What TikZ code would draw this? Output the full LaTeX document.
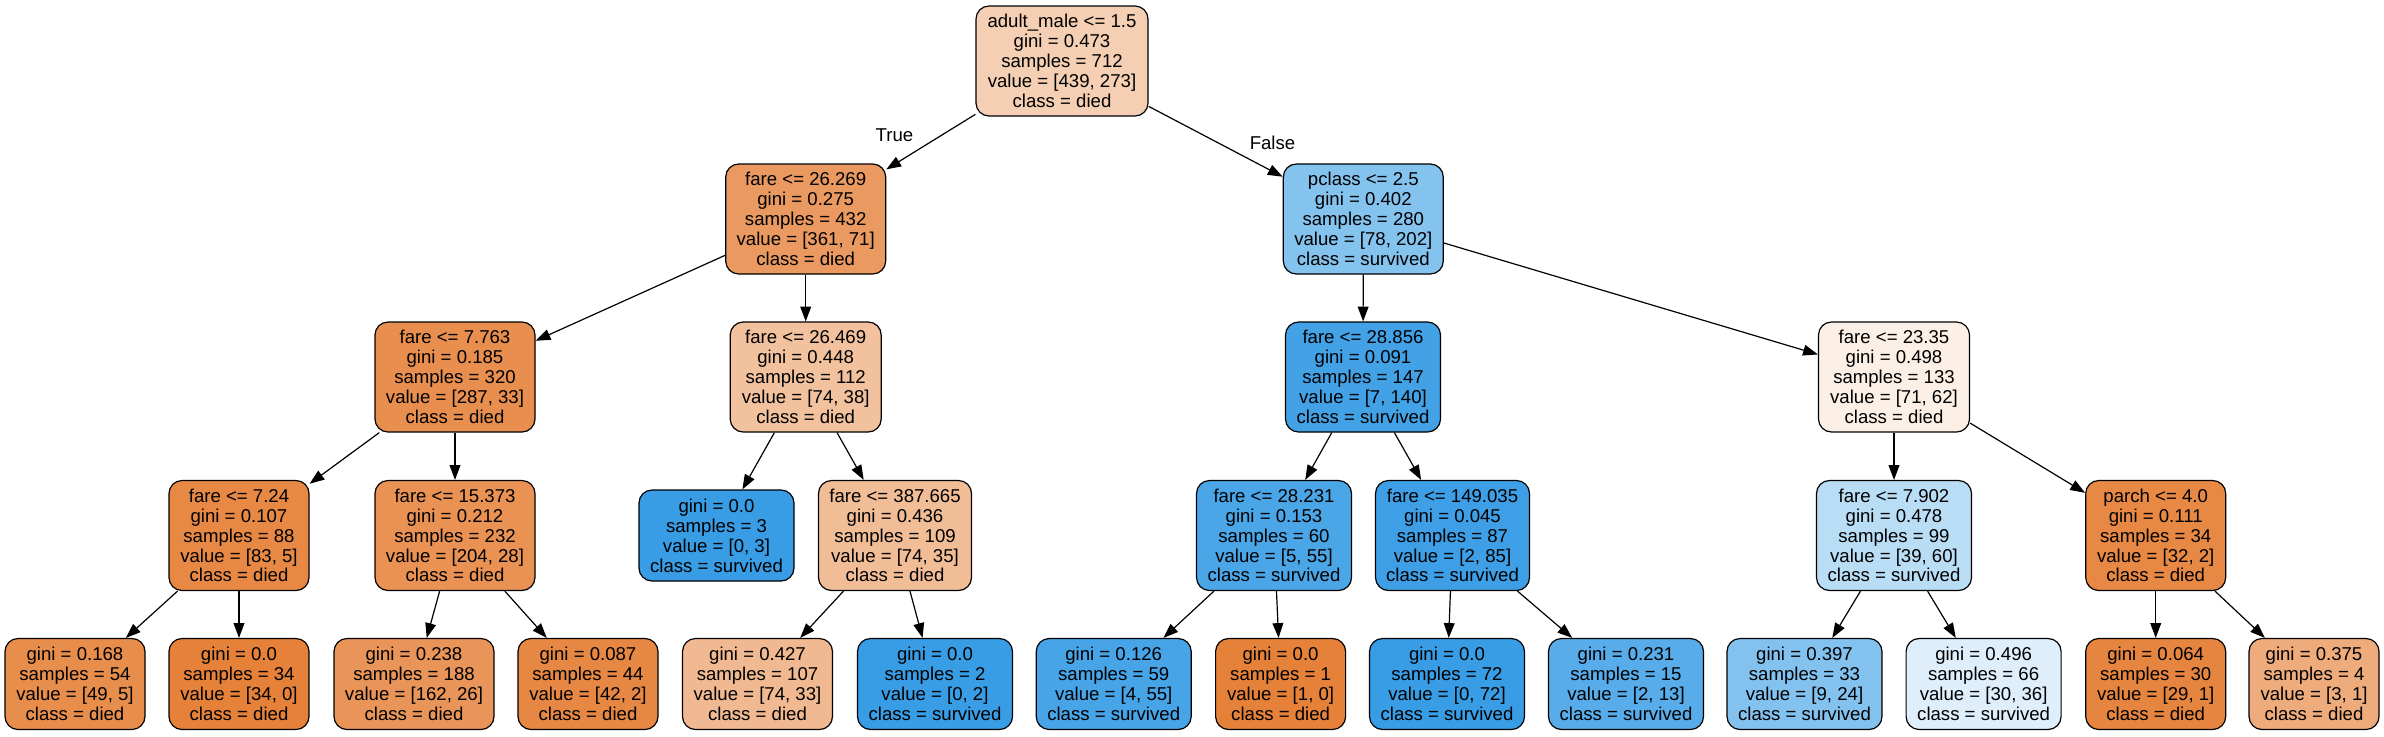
\documentclass[tikz,border=0pt]{standalone}
\usepackage{fontspec}
\setmainfont{Liberation Sans}
\usetikzlibrary{arrows.meta}
\newcommand\treefont{\fontsize{9.3}{9.95}\selectfont}
\definecolor{died}{RGB}{229,129,57}
\definecolor{surv}{RGB}{57,157,229}
\tikzset{
  tn/.style={draw=black, line width=0.6pt, rounded corners=6.5pt, align=center,
    inner sep=0pt, font=\treefont, minimum height=55pt},
  lf/.style={tn, minimum height=45.5pt},
  edge/.style={draw=black, line width=0.6pt, -{Triangle[length=7.4pt,width=5.4pt]}},
  elab/.style={font=\treefont, inner sep=0pt},
}
\begin{document}
\begin{tikzpicture}[x=0.5pt,y=-0.5pt]
\useasboundingbox (0,0) rectangle (2384,736);
% rank 0
\node[tn, minimum width=86pt, fill=died!37.8!white] (root) at (1062,61) {adult\_male <= 1.5\\gini = 0.473\\samples = 712\\value = [439, 273]\\class = died};
% rank 1
\node[tn, minimum width=80pt, fill=died!80.3!white] (n1) at (805.7,219) {fare <= 26.269\\gini = 0.275\\samples = 432\\value = [361, 71]\\class = died};
\node[tn, minimum width=80pt, fill=surv!61.4!white] (n2) at (1363.3,219) {pclass <= 2.5\\gini = 0.402\\samples = 280\\value = [78, 202]\\class = survived};
% rank 2
\node[tn, minimum width=80pt, fill=died!88.5!white] (n3) at (455,377) {fare <= 7.763\\gini = 0.185\\samples = 320\\value = [287, 33]\\class = died};
\node[tn, minimum width=75.5pt, fill=died!48.6!white] (n4) at (805.7,377) {fare <= 26.469\\gini = 0.448\\samples = 112\\value = [74, 38]\\class = died};
\node[tn, minimum width=77.5pt, fill=surv!95!white] (n5) at (1363,377) {fare <= 28.856\\gini = 0.091\\samples = 147\\value = [7, 140]\\class = survived};
\node[tn, minimum width=75.5pt, fill=died!12.7!white] (n6) at (1894,377) {fare <= 23.35\\gini = 0.498\\samples = 133\\value = [71, 62]\\class = died};
% rank 3
\node[tn, minimum width=70pt, fill=died!94!white] (n7) at (239,535.5) {fare <= 7.24\\gini = 0.107\\samples = 88\\value = [83, 5]\\class = died};
\node[tn, minimum width=80pt, fill=died!86.3!white] (n8) at (455,535.5) {fare <= 15.373\\gini = 0.212\\samples = 232\\value = [204, 28]\\class = died};
\node[lf, minimum width=77.5pt, fill=surv] (n9) at (716.5,535.5) {gini = 0.0\\samples = 3\\value = [0, 3]\\class = survived};
\node[tn, minimum width=76.5pt, fill=died!52.7!white] (n10) at (895,535.5) {fare <= 387.665\\gini = 0.436\\samples = 109\\value = [74, 35]\\class = died};
\node[tn, minimum width=77.5pt, fill=surv!90.9!white] (n11) at (1274,535.5) {fare <= 28.231\\gini = 0.153\\samples = 60\\value = [5, 55]\\class = survived};
\node[tn, minimum width=77pt, fill=surv!97.6!white] (n12) at (1452.5,535.5) {fare <= 149.035\\gini = 0.045\\samples = 87\\value = [2, 85]\\class = survived};
\node[tn, minimum width=77.5pt, fill=surv!35!white] (n13) at (1894,535.5) {fare <= 7.902\\gini = 0.478\\samples = 99\\value = [39, 60]\\class = survived};
\node[tn, minimum width=70pt, fill=died!93.75!white] (n14) at (2155.7,535.5) {parch <= 4.0\\gini = 0.111\\samples = 34\\value = [32, 2]\\class = died};
% rank 4
\node[lf, minimum width=70pt, fill=died!89.8!white] (l1) at (75,684) {gini = 0.168\\samples = 54\\value = [49, 5]\\class = died};
\node[lf, minimum width=70pt, fill=died] (l2) at (239,684) {gini = 0.0\\samples = 34\\value = [34, 0]\\class = died};
\node[lf, minimum width=80pt, fill=died!84!white] (l3) at (414,684) {gini = 0.238\\samples = 188\\value = [162, 26]\\class = died};
\node[lf, minimum width=70pt, fill=died!95.2!white] (l4) at (588,684) {gini = 0.087\\samples = 44\\value = [42, 2]\\class = died};
\node[lf, minimum width=75pt, fill=died!55.4!white] (l5) at (757.5,684) {gini = 0.427\\samples = 107\\value = [74, 33]\\class = died};
\node[lf, minimum width=77.5pt, fill=surv] (l6) at (935,684) {gini = 0.0\\samples = 2\\value = [0, 2]\\class = survived};
\node[lf, minimum width=77.5pt, fill=surv!92.7!white] (l7) at (1113.7,684) {gini = 0.126\\samples = 59\\value = [4, 55]\\class = survived};
\node[lf, minimum width=65pt, fill=died] (l8) at (1280.6,684) {gini = 0.0\\samples = 1\\value = [1, 0]\\class = died};
\node[lf, minimum width=77.5pt, fill=surv] (l9) at (1447,684) {gini = 0.0\\samples = 72\\value = [0, 72]\\class = survived};
\node[lf, minimum width=77.5pt, fill=surv!84.6!white] (l10) at (1626,684) {gini = 0.231\\samples = 15\\value = [2, 13]\\class = survived};
\node[lf, minimum width=77.5pt, fill=surv!62.5!white] (l11) at (1804.5,684) {gini = 0.397\\samples = 33\\value = [9, 24]\\class = survived};
\node[lf, minimum width=77.5pt, fill=surv!16.7!white] (l12) at (1983.6,684) {gini = 0.496\\samples = 66\\value = [30, 36]\\class = survived};
\node[lf, minimum width=70pt, fill=died!96.6!white] (l13) at (2155.7,684) {gini = 0.064\\samples = 30\\value = [29, 1]\\class = died};
\node[lf, minimum width=65pt, fill=died!66.7!white] (l14) at (2314,684) {gini = 0.375\\samples = 4\\value = [3, 1]\\class = died};
% edges
\draw[edge] (root) -- (n1);
\draw[edge] (root) -- (n2);
\node[elab] (ltrue) at (894.5,135) {True};
\node[elab] (lfalse) at (1272.5,143) {False};
\draw[edge] (n1) -- (n3);
\draw[edge] (n1) -- (n4);
\draw[edge] (n2) -- (n5);
\draw[edge] (n2) -- (n6);
\draw[edge] (n3) -- (n7);
\draw[edge] (n3) -- (n8);
\draw[edge] (n4) -- (n9);
\draw[edge] (n4) -- (n10);
\draw[edge] (n5) -- (n11);
\draw[edge] (n5) -- (n12);
\draw[edge] (n6) -- (n13);
\draw[edge] (n6) -- (n14);
\draw[edge] (n7) -- (l1);
\draw[edge] (n7) -- (l2);
\draw[edge] (n8) -- (l3);
\draw[edge] (n8) -- (l4);
\draw[edge] (n10) -- (l5);
\draw[edge] (n10) -- (l6);
\draw[edge] (n11) -- (l7);
\draw[edge] (n11) -- (l8);
\draw[edge] (n12) -- (l9);
\draw[edge] (n12) -- (l10);
\draw[edge] (n13) -- (l11);
\draw[edge] (n13) -- (l12);
\draw[edge] (n14) -- (l13);
\draw[edge] (n14) -- (l14);
\end{tikzpicture}
\end{document}
